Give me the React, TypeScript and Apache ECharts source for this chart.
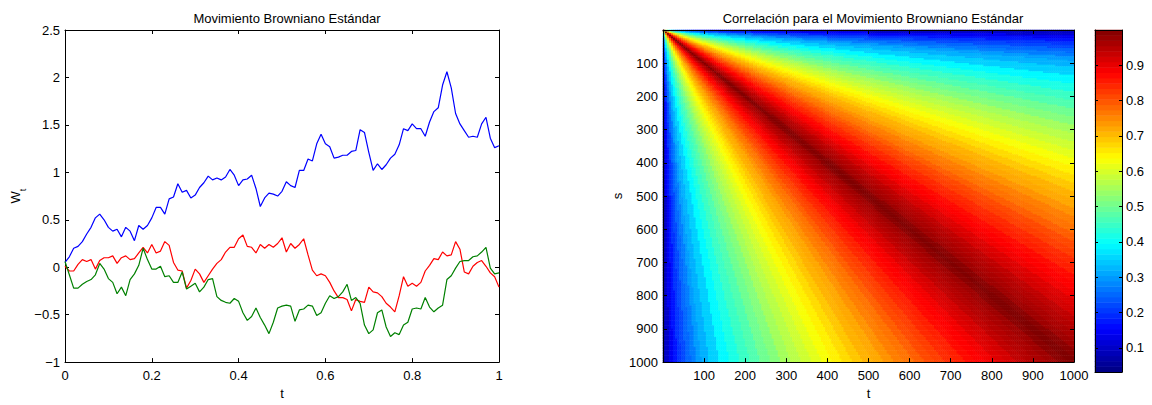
import React, { useEffect, useRef } from 'react';
import * as echarts from 'echarts';

const FONT = '"Liberation Sans", Arial, Helvetica, sans-serif';

const T_STEP = 0.01;
const blueW = [
  0.05, 0.11, 0.20, 0.22, 0.27, 0.35, 0.42, 0.52, 0.56, 0.50,
  0.42, 0.38, 0.40, 0.32, 0.42, 0.38, 0.28, 0.44, 0.40, 0.44,
  0.52, 0.63, 0.63, 0.56, 0.72, 0.74, 0.88, 0.79, 0.81, 0.73,
  0.76, 0.84, 0.89, 0.96, 0.92, 0.94, 0.92, 0.95, 1.03, 0.97,
  0.86, 0.92, 0.93, 0.97, 0.83, 0.64, 0.73, 0.78, 0.77, 0.75,
  0.80, 0.90, 0.86, 0.84, 1.02, 1.02, 1.14, 1.12, 1.30, 1.40,
  1.30, 1.27, 1.15, 1.16, 1.18, 1.18, 1.22, 1.23, 1.45, 1.42,
  1.21, 1.02, 1.09, 1.03, 1.08, 1.15, 1.19, 1.29, 1.46, 1.44,
  1.51, 1.46, 1.46, 1.38, 1.53, 1.64, 1.68, 1.92, 2.06, 1.89,
  1.62, 1.51, 1.44, 1.37, 1.38, 1.37, 1.51, 1.58, 1.36, 1.26,
  1.28,
];
const redW = [
  0.01, -0.04, -0.04, 0.03, 0.08, 0.06, 0.08, -0.02, 0.07, 0.10,
  0.10, 0.12, 0.04, 0.10, 0.12, 0.08, 0.09, 0.15, 0.21, 0.15,
  0.24, 0.15, 0.17, 0.27, 0.23, 0.05, -0.03, -0.04, -0.22, -0.14,
  -0.02, -0.07, -0.16, -0.09, -0.02, 0.04, 0.08, 0.16, 0.21, 0.21,
  0.30, 0.34, 0.22, 0.21, 0.15, 0.24, 0.20, 0.24, 0.21, 0.25,
  0.31, 0.16, 0.25, 0.20, 0.24, 0.30, 0.13, -0.03, -0.09, -0.07,
  -0.09, -0.16, -0.25, -0.32, -0.32, -0.34, -0.46, -0.34, -0.36, -0.37,
  -0.21, -0.26, -0.27, -0.31, -0.38, -0.42, -0.47, -0.30, -0.10, -0.20,
  -0.17, -0.20, -0.16, -0.04, 0.02, 0.09, 0.08, 0.16, 0.12, 0.13,
  0.27, 0.19, -0.05, -0.07, 0.01, 0.05, 0.07, 0.01, -0.06, -0.10,
  -0.21,
];
const greenW = [
  0.06, -0.08, -0.22, -0.22, -0.18, -0.15, -0.13, -0.08, 0.04, -0.02,
  -0.12, -0.16, -0.28, -0.21, -0.30, -0.13, -0.07, 0.02, 0.20, 0.08,
  -0.02, -0.02, 0.01, -0.10, -0.09, -0.16, -0.16, -0.05, -0.23, -0.20,
  -0.17, -0.26, -0.21, -0.13, -0.12, -0.31, -0.35, -0.37, -0.38, -0.33,
  -0.36, -0.48, -0.56, -0.52, -0.43, -0.53, -0.61, -0.70, -0.58, -0.43,
  -0.41, -0.40, -0.41, -0.57, -0.45, -0.44, -0.40, -0.41, -0.51, -0.48,
  -0.38, -0.30, -0.33, -0.31, -0.26, -0.18, -0.35, -0.32, -0.38, -0.61,
  -0.70, -0.66, -0.48, -0.45, -0.63, -0.73, -0.69, -0.71, -0.61, -0.58,
  -0.44, -0.43, -0.44, -0.32, -0.42, -0.47, -0.43, -0.40, -0.13, -0.09,
  -0.01, 0.06, 0.07, 0.07, 0.11, 0.12, 0.16, 0.21, -0.01, -0.07,
  -0.06,
];

// Correlation read along the bottom row (s = 1000) as a function of t/s
const corrRatio = [
  0, 0.005, 0.01, 0.02, 0.03, 0.04, 0.05, 0.0625, 0.075, 0.0875,
  0.1, 0.125, 0.15, 0.175, 0.2, 0.225, 0.25, 0.275, 0.3, 0.325,
  0.35, 0.375, 0.4, 0.425, 0.45, 0.475, 0.5, 0.525, 0.55, 0.575,
  0.6, 0.625, 0.65, 0.675, 0.7, 0.725, 0.75, 0.775, 0.8, 0.825,
  0.85, 0.875, 0.9, 0.925, 0.95, 0.975, 1,
];
const corrValue = [
  0.03, 0.07, 0.10, 0.14, 0.17, 0.20, 0.22, 0.25, 0.27, 0.30,
  0.32, 0.35, 0.39, 0.42, 0.45, 0.47, 0.50, 0.52, 0.55, 0.57,
  0.59, 0.61, 0.63, 0.65, 0.67, 0.69, 0.71, 0.72, 0.74, 0.76,
  0.77, 0.79, 0.81, 0.82, 0.84, 0.85, 0.87, 0.88, 0.89, 0.91,
  0.92, 0.94, 0.95, 0.96, 0.97, 0.99, 1.0,
];
const N_CELLS = 200;
const CELL = 5;
const CORR_MIN = 0.0316;
const CORR_MAX = 1;
const COLORBAR_STEPS = 64;
const jetColors = ['#000080', '#0000ff', '#0080ff', '#00ffff', '#80ff80', '#ffff00', '#ff8000', '#ff0000', '#800000'];

const lineTicksX = { min: 0, max: 1, interval: 0.2 };
const lineTicksY = { min: -1, max: 2.5, interval: 0.5 };
const heatTicks = { min: 0, max: 1000, interval: 100 };

function corrAt(r: number): number {
  let best = 0;
  for (let i = 1; i < corrRatio.length; i++) {
    if (Math.abs(corrRatio[i] - r) < Math.abs(corrRatio[best] - r)) best = i;
  }
  return corrValue[best];
}

function buildHeat() {
  const out: number[][] = [];
  for (let i = 0; i < N_CELLS; i++) {
    for (let j = 0; j < N_CELLS; j++) {
      const t = (i + 0.5) * CELL;
      const s = (j + 0.5) * CELL;
      out.push([i, j, corrAt(Math.min(t, s) / Math.max(t, s))]);
    }
  }
  return out;
}

function buildBar() {
  const out: number[][] = [];
  for (let k = 0; k < COLORBAR_STEPS; k++) {
    out.push([0, k, CORR_MIN + ((k + 0.5) * (CORR_MAX - CORR_MIN)) / COLORBAR_STEPS]);
  }
  return out;
}

const axisLine = { show: true, onZero: false, lineStyle: { color: '#000', width: 1 } };
const tick = { show: true, inside: true, length: 4, lineStyle: { color: '#000', width: 1 } };
const label = { color: '#000', fontSize: 13, fontFamily: FONT };
const minus = (v: number) => String(v).replace('-', '\u2212');

export default function App() {
  const ref = useRef<HTMLDivElement>(null);
  useEffect(() => {
    if (!ref.current) return;
    const chart = echarts.init(ref.current, null, { renderer: 'svg' });
    const idx = Array.from({ length: N_CELLS }, (_, i) => String(i));
    const barIdx = Array.from({ length: COLORBAR_STEPS }, (_, i) => String(i));
    const path = (arr: number[]) => arr.map((v, i) => [i * T_STEP, v]);

    chart.setOption({
      animation: false,
      textStyle: { fontFamily: FONT },
      title: [
        { text: 'Movimiento Browniano Estándar', left: 282, top: 7, textAlign: 'center',
          textStyle: { fontSize: 13, fontWeight: 'normal', color: '#000', fontFamily: FONT } },
        { text: 'Correlación para el Movimiento Browniano Estándar', left: 868, top: 7, textAlign: 'center',
          textStyle: { fontSize: 13, fontWeight: 'normal', color: '#000', fontFamily: FONT } },
      ],
      grid: [
        { left: 65, top: 30, width: 434, height: 343 },
        { left: 663, top: 30, width: 411, height: 342 },
        { left: 1095, top: 30, width: 27, height: 342 },
      ],
      xAxis: [
        { gridIndex: 0, type: 'value', ...lineTicksX, position: 'bottom', axisLine, axisTick: tick,
          splitLine: { show: false }, axisLabel: { ...label, margin: 7 },
          name: 't', nameLocation: 'middle', nameGap: 21, nameTextStyle: { ...label } },
        { gridIndex: 0, type: 'value', ...lineTicksX, position: 'top', axisLine, axisTick: tick,
          splitLine: { show: false }, axisLabel: { show: false } },
        { gridIndex: 1, type: 'category', data: idx, show: false },
        { gridIndex: 1, type: 'value', ...heatTicks, position: 'bottom', z: 5, axisLine, axisTick: tick,
          splitLine: { show: false },
          axisLabel: { ...label, margin: 7, formatter: (v: number) => (v === 0 ? '' : String(v)) },
          name: 't', nameLocation: 'middle', nameGap: 21, nameTextStyle: { ...label } },
        { gridIndex: 1, type: 'value', ...heatTicks, position: 'top', z: 5, axisLine, axisTick: tick,
          splitLine: { show: false }, axisLabel: { show: false } },
        { gridIndex: 2, type: 'category', data: ['0'], show: false },
        { gridIndex: 2, type: 'value', min: 0, max: 1, position: 'bottom', z: 5, axisLine,
          axisTick: { show: false }, splitLine: { show: false }, axisLabel: { show: false } },
        { gridIndex: 2, type: 'value', min: 0, max: 1, position: 'top', z: 5, axisLine,
          axisTick: { show: false }, splitLine: { show: false }, axisLabel: { show: false } },
      ],
      yAxis: [
        { gridIndex: 0, type: 'value', ...lineTicksY, position: 'left', axisLine, axisTick: tick,
          splitLine: { show: false }, axisLabel: { ...label, margin: 5, formatter: minus },
          name: '{w|W}{s|t}', nameLocation: 'middle', nameGap: 38,
          nameTextStyle: { ...label, rich: {
            w: { fontSize: 13, fontFamily: FONT, color: '#000', lineHeight: 18, verticalAlign: 'top' },
            s: { fontSize: 9, fontFamily: FONT, color: '#000', lineHeight: 18, verticalAlign: 'bottom' },
          } } },
        { gridIndex: 0, type: 'value', ...lineTicksY, position: 'right', axisLine, axisTick: tick,
          splitLine: { show: false }, axisLabel: { show: false } },
        { gridIndex: 1, type: 'category', data: idx, inverse: true, show: false },
        { gridIndex: 1, type: 'value', ...heatTicks, inverse: true, position: 'left', z: 5, axisLine, axisTick: tick,
          splitLine: { show: false },
          axisLabel: { ...label, margin: 5, formatter: (v: number) => (v === 0 ? '' : String(v)) },
          name: 's', nameLocation: 'middle', nameGap: 39, nameTextStyle: { ...label } },
        { gridIndex: 1, type: 'value', ...heatTicks, inverse: true, position: 'right', z: 5, axisLine, axisTick: tick,
          splitLine: { show: false }, axisLabel: { show: false } },
        { gridIndex: 2, type: 'category', data: barIdx, show: false },
        { gridIndex: 2, type: 'value', min: CORR_MIN, max: CORR_MAX, splitNumber: 10, position: 'right', z: 5,
          axisLine, axisTick: { ...tick, length: 3 }, splitLine: { show: false },
          axisLabel: { ...label, margin: 4, showMinLabel: false, showMaxLabel: false,
            formatter: (v: number) => {
              const r = Math.round(v * 10) / 10;
              return Math.abs(v - r) < 1e-6 && r > 0.05 && r < 0.95 ? r.toFixed(1) : '';
            } } },
        { gridIndex: 2, type: 'value', min: CORR_MIN, max: CORR_MAX, splitNumber: 10, position: 'left', z: 5,
          axisLine, axisTick: { ...tick, length: 3 }, splitLine: { show: false }, axisLabel: { show: false } },
      ],
      visualMap: {
        type: 'continuous', show: false, min: CORR_MIN, max: CORR_MAX, dimension: 2,
        seriesIndex: [3, 4], inRange: { color: jetColors },
      },
      series: [
        { type: 'line', xAxisIndex: 0, yAxisIndex: 0, data: path(blueW), showSymbol: false,
          lineStyle: { color: '#0000ff', width: 1.2 }, itemStyle: { color: '#0000ff' } },
        { type: 'line', xAxisIndex: 0, yAxisIndex: 0, data: path(redW), showSymbol: false,
          lineStyle: { color: '#ff0000', width: 1.2 }, itemStyle: { color: '#ff0000' } },
        { type: 'line', xAxisIndex: 0, yAxisIndex: 0, data: path(greenW), showSymbol: false,
          lineStyle: { color: '#008000', width: 1.2 }, itemStyle: { color: '#008000' } },
        { type: 'heatmap', xAxisIndex: 2, yAxisIndex: 2, data: buildHeat(), progressive: 0,
          emphasis: { disabled: true }, itemStyle: { borderWidth: 0 } },
        { type: 'heatmap', xAxisIndex: 5, yAxisIndex: 5, data: buildBar(), progressive: 0,
          emphasis: { disabled: true }, itemStyle: { borderWidth: 0 } },
      ],
    });
    return () => chart.dispose();
  }, []);
  return <div ref={ref} style={{ position: 'absolute', left: 0, top: 0, width: 1152, height: 405, background: '#fff' }} />;
}
